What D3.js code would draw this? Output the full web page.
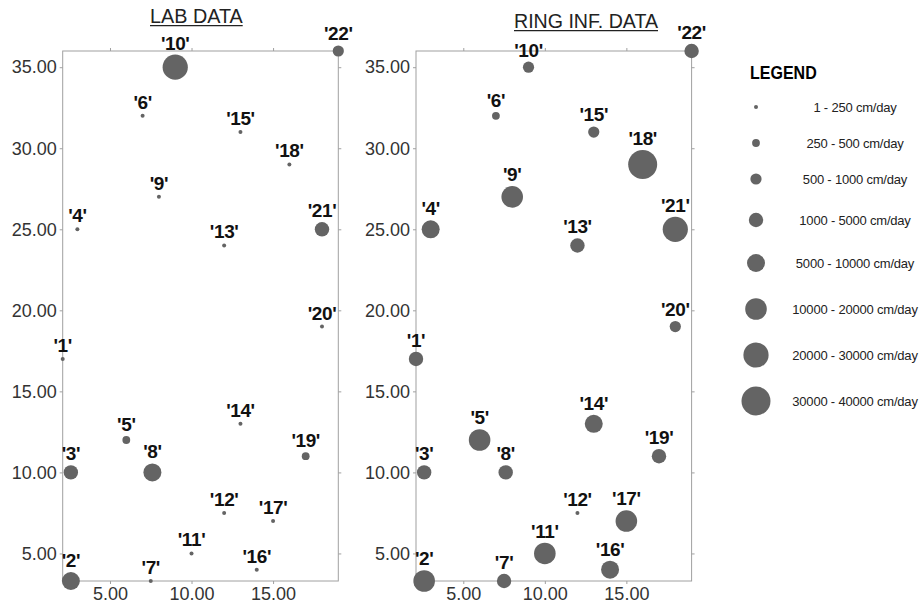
<!DOCTYPE html>
<html>
<head>
<meta charset="utf-8">
<script src="https://cdn.jsdelivr.net/npm/d3@7/dist/d3.min.js"></script>
<style>
  html, body { margin: 0; padding: 0; background: #fff; }
  svg { display: block; font-family: "Liberation Sans", Arial, sans-serif; }
</style>
</head>
<body>
<script>
// ---------- DATA ----------
const wells   = ['1','2','3','4','5','6','7','8','9','10','11','12','13','14','15','16','17','18','19','20','21','22'];
const wellX   = [2.1, 2.6, 2.6, 3, 6, 7, 7.5, 7.6, 8, 9, 10, 12, 12, 13, 13, 14, 15, 16, 17, 18, 18, 19];
const wellY   = [17, 3.3, 10, 25, 12, 32, 3.3, 10, 27, 35, 5, 7.5, 24, 13, 31, 4, 7, 29, 11, 19, 25, 36];
// flow rates (cm/day), estimated from the symbol class shown
const labFlow  = [120, 7500, 3000, 120, 380, 120, 120, 7500, 120, 25000, 120, 120, 120, 120, 120, 120, 120, 120, 380, 120, 3000, 750];
const ringFlow = [3000, 15000, 3000, 7500, 15000, 380, 3000, 3000, 15000, 750, 15000, 120, 3000, 7500, 750, 7500, 15000, 35000, 3000, 750, 25000, 3000];
const classBreaks = [250, 500, 1000, 5000, 10000, 20000, 30000];
const classLabels = ['1 - 250 cm/day','250 - 500 cm/day','500 - 1000 cm/day','1000 - 5000 cm/day',
                     '5000 - 10000 cm/day','10000 - 20000 cm/day','20000 - 30000 cm/day','30000 - 40000 cm/day'];
const xTicks = [5, 10, 15];
const yTicks = [5, 10, 15, 20, 25, 30, 35];
const panelTitles = ['LAB DATA', 'RING INF. DATA'];

// ---------- LAYOUT ----------
const W = 919, H = 608;
const svg = d3.select('body').append('svg').attr('width', W).attr('height', H);
const radii = [2, 3.9, 5.6, 7.2, 9, 10.8, 12.6, 14.5];
const rScale = d3.scaleThreshold().domain(classBreaks).range(radii);
const fmt = d3.format('.2f');
const ptColor = '#646464';

const panels = [
  { title: panelTitles[0], flows: labFlow,  left: 62.7, titleX: 150, titleY: 23, titleW: 92.7 },
  { title: panelTitles[1], flows: ringFlow, left: 416,  titleX: 514, titleY: 28, titleW: 144 }
];
const pw = 275.6, plotTop = 51, plotBottom = 581;

panels.forEach(p => {
  const x = d3.scaleLinear().domain([2.1, 19]).range([p.left, p.left + pw]);
  const y = d3.scaleLinear().domain([3.3, 36]).range([plotBottom, plotTop]);
  const g = svg.append('g');

  g.append('rect').attr('x', p.left).attr('y', plotTop).attr('width', pw).attr('height', plotBottom - plotTop)
    .attr('fill', 'none').attr('stroke', '#a0a0a0').attr('stroke-width', 1);

  const styleAxis = sel => {
    sel.select('.domain').remove();
    sel.selectAll('line').attr('stroke', '#a0a0a0');
    sel.selectAll('text').attr('font-size', 18).attr('fill', '#333')
      .attr('font-family', '"Liberation Sans", Arial, sans-serif');
  };
  g.append('g').attr('transform', `translate(0,${plotBottom})`)
    .call(d3.axisBottom(x).tickValues(xTicks).tickSize(3).tickPadding(3).tickFormat(fmt)).call(styleAxis);
  g.append('g').attr('transform', `translate(${p.left},0)`)
    .call(d3.axisLeft(y).tickValues(yTicks).tickSize(3).tickPadding(3).tickFormat(fmt)).call(styleAxis);
  g.append('g').attr('transform', `translate(0,${plotTop})`)
    .call(d3.axisTop(x).tickValues(xTicks).tickSize(3).tickFormat('')).call(styleAxis);
  g.append('g').attr('transform', `translate(${p.left + pw},0)`)
    .call(d3.axisRight(y).tickValues(yTicks).tickSize(3).tickFormat('')).call(styleAxis);

  const data = wells.map((w, i) => ({ w, x: wellX[i], y: wellY[i], r: rScale(p.flows[i]) }));
  g.selectAll('circle.pt').data(data).join('circle').attr('class', 'pt')
    .attr('cx', d => x(d.x)).attr('cy', d => y(d.y)).attr('r', d => d.r).attr('fill', ptColor);
  g.selectAll('text.lbl').data(data).join('text').attr('class', 'lbl')
    .attr('x', d => x(d.x)).attr('y', d => y(d.y) - d.r - 5)
    .attr('text-anchor', 'middle').attr('font-size', 19).attr('font-weight', 'bold')
    .attr('letter-spacing', '-0.4px').attr('fill', '#111')
    .text(d => `'${d.w}'`);

  g.append('text').attr('x', p.titleX).attr('y', p.titleY).attr('font-size', 20).attr('fill', '#222')
    .attr('textLength', p.titleW).attr('lengthAdjust', 'spacingAndGlyphs').text(p.title);
  g.append('line').attr('x1', p.titleX).attr('x2', p.titleX + p.titleW)
    .attr('y1', p.titleY + 2.6).attr('y2', p.titleY + 2.6).attr('stroke', '#222').attr('stroke-width', 1.4);
});

// ---------- LEGEND ----------
const legY = [107, 143, 179, 220, 263, 309, 355, 401];
const leg = svg.append('g');
leg.append('text').attr('x', 750).attr('y', 79).attr('font-size', 18).attr('font-weight', 'bold')
  .attr('fill', '#000').attr('textLength', 66.7).attr('lengthAdjust', 'spacingAndGlyphs').text('LEGEND');
leg.selectAll('circle').data(classLabels).join('circle')
  .attr('cx', 756).attr('cy', (d, i) => legY[i]).attr('r', (d, i) => radii[i]).attr('fill', ptColor);
leg.selectAll('text.ll').data(classLabels).join('text').attr('class', 'll')
  .attr('x', 855).attr('y', (d, i) => legY[i]).attr('dy', '0.35em')
  .attr('text-anchor', 'middle').attr('font-size', 13).attr('fill', '#222')
  .attr('letter-spacing', '-0.2px').text(d => d);
</script>
</body>
</html>
